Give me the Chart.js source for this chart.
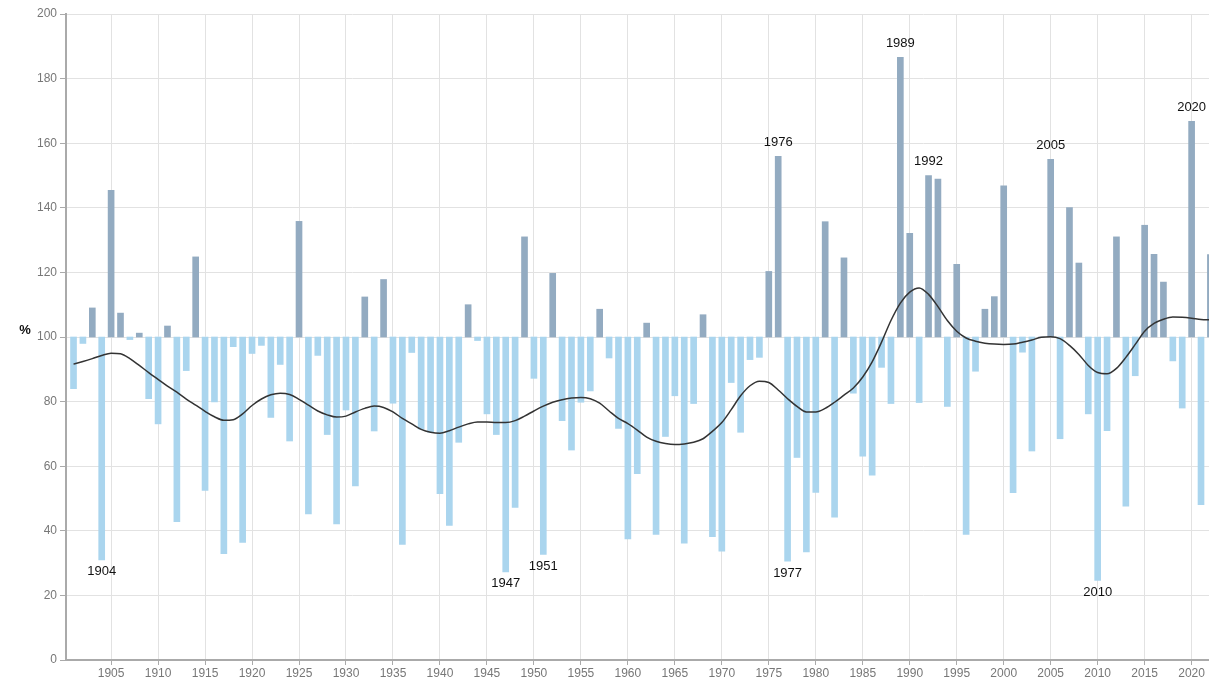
<!DOCTYPE html>
<html>
<head>
<meta charset="utf-8">
<script src="https://cdn.jsdelivr.net/npm/chart.js@4/dist/chart.umd.min.js"></script>
<style>
  html, body { margin: 0; padding: 0; background: #fff; overflow: hidden; }
  #wrap { width: 1209px; height: 680px; }
</style>
</head>
<body>
<div id="wrap"><canvas id="rainChart" width="1209" height="680"></canvas></div>
<script>
// Years shown as bars
const years = [
  1901, 1902, 1903, 1904, 1905, 1906, 1907, 1908, 1909, 1910,
  1911, 1912, 1913, 1914, 1915, 1916, 1917, 1918, 1919, 1920,
  1921, 1922, 1923, 1924, 1925, 1926, 1927, 1928, 1929, 1930,
  1931, 1932, 1933, 1934, 1935, 1936, 1937, 1938, 1939, 1940,
  1941, 1942, 1943, 1944, 1945, 1946, 1947, 1948, 1949, 1950,
  1951, 1952, 1953, 1954, 1955, 1956, 1957, 1958, 1959, 1960,
  1961, 1962, 1963, 1964, 1965, 1966, 1967, 1968, 1969, 1970,
  1971, 1972, 1973, 1974, 1975, 1976, 1977, 1978, 1979, 1980,
  1981, 1982, 1983, 1984, 1985, 1986, 1987, 1988, 1989, 1990,
  1991, 1992, 1993, 1994, 1995, 1996, 1997, 1998, 1999, 2000,
  2001, 2002, 2003, 2004, 2005, 2006, 2007, 2008, 2009, 2010,
  2011, 2012, 2013, 2014, 2015, 2016, 2017, 2018, 2019, 2020,
  2021, 2022
];

// Yearly value in % of normal (100 = normal)
const percentOfNormal = [
  84, 98, 109, 31, 145.4, 107.4, 99.2, 101.2, 80.9, 73.1,
  103.4, 42.8, 89.6, 124.8, 52.5, 79.9, 32.9, 97, 36.4, 94.9,
  97.4, 75.1, 91.5, 67.8, 135.8, 45.2, 94.3, 69.8, 42.1, 77.4,
  53.9, 112.4, 70.9, 117.8, 79.5, 35.8, 95.2, 71.5, 70.5, 51.5,
  41.7, 67.4, 110, 98.9, 76.2, 69.8, 27.3, 47.2, 131, 87.2,
  32.7, 119.7, 74.1, 65, 79.8, 83.3, 108.6, 93.5, 71.7, 37.5,
  57.7, 104.3, 38.9, 69.2, 81.8, 36.2, 79.4, 106.9, 38.2, 33.7,
  85.9, 70.5, 93, 93.7, 120.3, 155.9, 30.6, 62.7, 33.5, 51.9,
  135.7, 44.2, 124.5, 82.6, 63.1, 57.2, 90.6, 79.4, 186.6, 132.1,
  79.7, 150, 148.9, 78.5, 122.5, 38.9, 89.4, 108.6, 112.5, 146.8,
  51.8, 95.3, 64.7, 100, 155, 68.5, 140.1, 122.9, 76.2, 24.6,
  71, 131, 47.6, 88, 134.6, 125.6, 117, 92.6, 78, 166.8,
  48.1, 125.5
];

// Smoothed trend for each year
const smoothed = [
  91.6, 92.4, 93.3, 94.3, 95, 94.8, 93.3, 91.2, 89, 86.9,
  84.8, 82.9, 80.8, 78.9, 77, 75.3, 74.2, 74.4, 76.2, 78.8,
  80.8, 82.1, 82.6, 82.2, 80.7, 78.9, 77.1, 75.9, 75.2, 75.5,
  76.8, 77.9, 78.6, 78.2, 76.8, 74.8, 73.1, 71.4, 70.5, 70.2,
  71, 72.1, 73.1, 73.7, 73.7, 73.5, 73.5, 74.1, 75.5, 77.1,
  78.6, 79.8, 80.6, 81.1, 81.3, 80.9, 79.5, 77.1, 74.8, 73.2,
  71.2, 69, 67.7, 67, 66.7, 66.9, 67.4, 68.5, 70.8, 73.5,
  77.5, 81.8, 84.9, 86.3, 85.9, 83.6, 80.9, 78.5, 76.8, 76.8,
  77.9, 79.8, 82, 84.2, 87.6, 92.3, 98.4, 105.1, 110.5, 113.9,
  115.2, 113.2, 109.4, 105.1, 101.8, 99.7, 98.7, 98.1, 97.8, 97.7,
  97.8, 98.4, 99.1, 99.9, 100.1, 99.5, 97.4, 94.6, 91.2, 89,
  88.6, 90.3, 93.7, 97.7, 101.8, 104.2, 105.5, 106.2, 106.1, 105.8,
  105.4, 105.3
];

// Years that get a text label next to their bar
const labelledYears = [1904, 1947, 1951, 1976, 1977, 1989, 1992, 2005, 2010, 2020];

// Tick labels
const xTickYears = [1905, 1910, 1915, 1920, 1925, 1930, 1935, 1940, 1945, 1950, 1955, 1960,
  1965, 1970, 1975, 1980, 1985, 1990, 1995, 2000, 2005, 2010, 2015, 2020];
const yTicks = [0, 20, 40, 60, 80, 100, 120, 140, 160, 180, 200];

const baseline = 100;
const aboveColor = '#93abc1';
const belowColor = '#aad5ee';
const fontFamily = '"Liberation Sans", Arial, sans-serif';

const barPoints = years.map((yr, i) => ({ x: yr, y: [baseline, percentOfNormal[i]] }));
const linePoints = years.map((yr, i) => ({ x: yr, y: smoothed[i] }));
const barColors = percentOfNormal.map(v => v >= baseline ? aboveColor : belowColor);

// Draws the year labels and the "%" axis caption
const labelPlugin = {
    id: 'yearLabels',
    afterDatasetsDraw(chart) {
        const ctx = chart.ctx;
        const xs = chart.scales.x;
        const ys = chart.scales.y;
        ctx.save();
        ctx.fillStyle = '#111';
        ctx.font = '13px ' + fontFamily;
        ctx.textAlign = 'center';
        ctx.textBaseline = 'middle';
        labelledYears.forEach(yr => {
            const i = years.indexOf(yr);
            const v = percentOfNormal[i];
            const px = xs.getPixelForValue(yr);
            const py = ys.getPixelForValue(v);
            ctx.fillText(String(yr), px, v >= baseline ? py - 14 : py + 12);
        });
        ctx.font = 'bold 13px ' + fontFamily;
        ctx.fillText('%', 25, ys.getPixelForValue(baseline) - 7);
        ctx.restore();
    }
};

const ctx = document.getElementById('rainChart').getContext('2d');
const rainChart = new Chart(ctx, {
    data: {
        datasets: [
            {
                type: 'line',
                data: linePoints,
                borderColor: '#333',
                borderWidth: 1.5,
                pointRadius: 0,
                tension: 0.4,
                cubicInterpolationMode: 'monotone',
                order: 0
            },
            {
                type: 'bar',
                data: barPoints,
                backgroundColor: barColors,
                borderWidth: 0,
                barThickness: 6,
                order: 1
            }
        ]
    },
    plugins: [labelPlugin],
    options: {
        responsive: false,
        animation: false,
        layout: { padding: { top: 14, right: 0, left: 0, bottom: 0 } },
        plugins: {
            legend: { display: false },
            tooltip: { enabled: false }
        },
        scales: {
            x: {
                type: 'linear',
                min: 1900.2,
                max: 2021.85,
                offset: false,
                afterBuildTicks: scale => { scale.ticks = xTickYears.map(v => ({ value: v })); },
                afterFit: scale => { scale.height = 20; },
                grid: { color: '#e2e2e2', tickColor: '#aaa', tickLength: 5, offset: false },
                border: { color: '#aaa', width: 2 },
                ticks: {
                    color: '#777',
                    font: { family: fontFamily, size: 12 },
                    padding: 1,
                    maxRotation: 0,
                    autoSkip: false,
                    callback: v => String(v)
                }
            },
            y: {
                min: 0,
                max: 200,
                afterBuildTicks: scale => { scale.ticks = yTicks.map(v => ({ value: v })); },
                afterFit: scale => { scale.width = 66; },
                grid: { color: '#e2e2e2', tickColor: '#aaa', tickLength: 6 },
                border: { color: '#aaa', width: 2 },
                ticks: {
                    color: '#777',
                    font: { family: fontFamily, size: 12 },
                    padding: 3
                }
            }
        }
    }
});
</script>
</body>
</html>
